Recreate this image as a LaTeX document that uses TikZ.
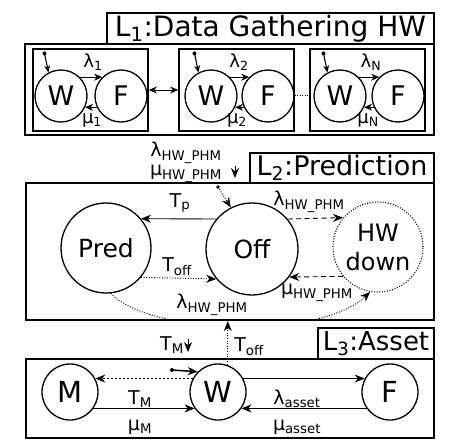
\documentclass[tikz,border=0pt]{standalone}
\usepackage{fontspec}
\setmainfont{DejaVu Sans}
\usetikzlibrary{arrows.meta,calc}
\begin{document}
\begin{tikzpicture}[x=1pt,y=-1pt,
  st/.style={circle,draw,line width=1.3pt,inner sep=0pt,minimum size=#1},
  st/.default=52pt,
  lbox/.style={draw,line width=2.4pt,inner sep=0pt,fill=white},
  ibox/.style={draw,line width=1.6pt,inner sep=0pt},
  arr/.style={-{Stealth[length=10pt,width=8pt]},line width=0.9pt},
  sarr/.style={-{Stealth[length=8pt,width=7pt]},line width=0.9pt},
  dsh/.style={dash pattern=on 5pt off 3.5pt},
  dtt/.style={dash pattern=on 1pt off 1.6pt},
  lab/.style={font=\fontsize{19}{21}\selectfont,inner sep=0.5pt},
  slab/.style={font=\fontsize{18}{20}\selectfont,inner sep=0.5pt},
  ctxt/.style={font=\fontsize{25}{29}\selectfont},
  ltxt/.style={font=\fontsize{27}{29}\selectfont},
]
\useasboundingbox[fill=white] (0,0) rectangle (474,442);

% ---------------- L1 ----------------
\node[lbox,minimum width=409pt,minimum height=91pt] (l1) at (229.5,89.5) {};
\node[lbox,minimum width=327pt,minimum height=31pt,font=\fontsize{28}{30}\selectfont] (t1) at (270.5,28.5) {L\textsubscript{1}:Data Gathering HW};
\node[ibox,minimum width=115pt,minimum height=82pt] (b1) at (90.5,90) {};
\node[ibox,minimum width=115pt,minimum height=82pt] (b2) at (236.5,90) {};
\node[ibox,minimum width=115pt,minimum height=82pt] (b3) at (367.5,90) {};

\node[st,ltxt] (W1) at (61,96) {W};
\node[st,ltxt] (F1) at (121,96) {F};
\node[st,ltxt] (W2) at (211,96) {W};
\node[st,ltxt] (F2) at (268,96) {F};
\node[st,ltxt] (W3) at (340,96) {W};
\node[st,ltxt] (F3) at (398,96) {F};

\foreach \i in {1,2,3}{
  \draw[sarr] (W\i.45) -- (F\i.135);
  \draw[sarr] (F\i.-155) -- (W\i.-25);
  \coordinate (s\i) at ($(W\i.118)+(-4,-19)$);
  \fill (s\i) circle (2pt);
  \draw[line width=1.1pt,-{Stealth[length=7pt,width=6pt]}] (s\i) -- (W\i.118);
}
\node[slab] (lam1) at (93,62) {λ\textsubscript{1}};
\node[slab] (mu1) at (92,120) {μ\textsubscript{1}};
\node[slab] (lam2) at (239,62) {λ\textsubscript{2}};
\node[slab] (mu2) at (237,120) {μ\textsubscript{2}};
\node[slab] (lamN) at (371,62) {λ\textsubscript{N}};
\node[slab] (muN) at (368,120) {μ\textsubscript{N}};

\draw[{Stealth[length=8pt,width=7pt]}-{Stealth[length=8pt,width=7pt]},line width=0.9pt] (b1.east) -- (b2.east -| b2.west);
\draw[line width=1pt,dash pattern=on 1pt off 1.5pt] ([yshift=-5pt]b2.east) -- ([yshift=-5pt]b3.west);

% ---------------- L2 ----------------
\node[lbox,minimum width=408pt,minimum height=137pt] (l2) at (230,251.5) {};
\node[lbox,minimum width=184pt,minimum height=30pt,font=\fontsize{27}{30}\selectfont] (t2) at (342,168) {L\textsubscript{2}:Prediction};

\node[st=90pt,ctxt] (Pred) at (106,248) {Pred};
\node[st=92pt,ctxt] (Off) at (252,249) {Off};
\node[st=90pt,ctxt,draw=none,align=center,font=\fontsize{24}{29}\selectfont] (HW) at (378,247) {HW\\down};
\draw[line width=1.1pt,dtt] (HW) circle (45pt);

\draw[arr] (Off.140) -- (Pred.40);
\draw[arr,dsh] (Off.40) -- (HW.140);
\draw[arr,dsh] (HW.-140) -- (Off.-37);
\draw[arr,dtt] (Pred.-40) -- (Off.-140);
\begin{scope}
  \clip (26,183) rectangle (434,318.5);
  \draw[arr,dtt] (Pred.-84) .. controls (150,335) and (320,340) .. (HW.-100);
\end{scope}

\node[lab] (Tp) at (180,203) {T\textsubscript{p}};
\node[lab] (lhw1) at (309,202) {λ\textsubscript{HW\_PHM}};
\node[lab] (Toff1) at (177,267) {T\textsubscript{off}};
\node[lab] (mhw1) at (317,293) {μ\textsubscript{HW\_PHM}};
\node[lab] (lhw2) at (212,305) {λ\textsubscript{HW\_PHM}};

\node[lab,align=center,font=\fontsize{19}{19}\selectfont] (hw0) at (186,162) {λ\textsubscript{HW\_PHM}\\μ\textsubscript{HW\_PHM}};
\coordinate (v1a) at (235,166);
\coordinate (v1b) at (235,178);
\draw[arr] (v1a) -- (v1b);
\coordinate (s4) at (218,187);
\fill (s4) circle (1.8pt);
\draw[arr,dtt] (s4) -- (Off.117);

% ---------------- L3 ----------------
\node[lbox,minimum width=408pt,minimum height=79pt] (l3) at (230,398.5) {};
\node[lbox,minimum width=116pt,minimum height=31pt,font=\fontsize{26}{30}\selectfont] (t3) at (376,343.5) {L\textsubscript{3}:Asset};

\node[st=56pt,font=\fontsize{29}{30}\selectfont] (M) at (70,392) {M};
\node[st=56pt,font=\fontsize{29}{30}\selectfont] (W) at (218,392) {W};
\node[st=56pt,font=\fontsize{29}{30}\selectfont] (F) at (390,392) {F};

\draw[arr,dash pattern=on 2pt off 2pt] (W.152) -- (M.28);
\draw[arr] (M.-35) -- (W.-145);
\draw[arr] (W.28) -- (F.152);
\draw[arr] (F.-145) -- (W.-35);

\node[lab] (TM) at (140,399) {T\textsubscript{M}};
\node[lab] (muM) at (140,427) {μ\textsubscript{M}};
\node[lab] (la) at (297,399) {λ\textsubscript{asset}};
\node[lab] (ma) at (297,427) {μ\textsubscript{asset}};

\node[lab] (TM2) at (172,345) {T\textsubscript{M}};
\coordinate (v2a) at (188,339);
\coordinate (v2b) at (188,352);
\draw[arr] (v2a) -- (v2b);
\coordinate (s5) at (172,370);
\fill (s5) circle (2pt);
\draw[arr,line width=1.5pt] (s5) -- (W.135);
\draw[arr,dtt] (W.70) -- (W.70 |- l2.south);
\node[lab] (Toff2) at (249,347) {T\textsubscript{off}};
\end{tikzpicture}
\end{document}
